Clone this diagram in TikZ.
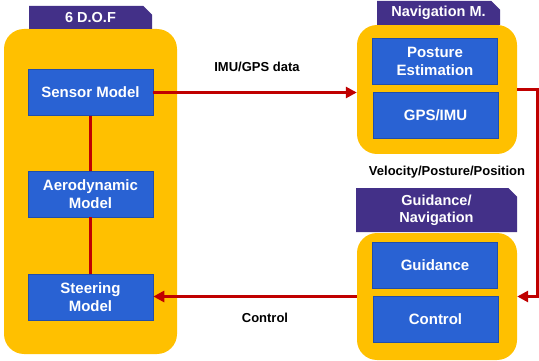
\documentclass[tikz,border=0pt]{standalone}
\usepackage{fontspec}
\setmainfont{Liberation Sans}
\usepackage{xcolor}
\usetikzlibrary{arrows.meta,positioning,calc,shapes.misc}
\definecolor{panel}{HTML}{FFC000}
\definecolor{blockblue}{HTML}{2962D3}
\definecolor{tabpurple}{HTML}{433088}
\definecolor{linkred}{HTML}{C00000}
\tikzset{
  panelbox/.style={fill=panel,draw=none,rounded corners=20pt},
  tabbox/.style={chamfered rectangle,chamfered rectangle corners=north east,
    chamfered rectangle xsep=5pt,fill=tabpurple,draw=none,text=white,
    font=\bfseries\fontsize{14.5}{17}\selectfont,align=center,inner sep=0pt},
  block/.style={fill=blockblue,draw=blockblue!80!black,line width=0.6pt,
    text=white,font=\bfseries\fontsize{15}{18}\selectfont,align=center,
    minimum width=125pt,minimum height=46pt,inner sep=0pt},
  link/.style={linkred,line width=3pt},
  linkarrow/.style={link,-{Triangle[length=11pt,width=11pt]}},
  tag/.style={font=\bfseries\fontsize{13}{15}\selectfont}
}
\begin{document}
\begin{tikzpicture}[x=1pt,y=-1pt]
\useasboundingbox (0,0) rectangle (539,361);
% left panel
\node[panelbox,minimum width=173pt,minimum height=325pt] (dofy) at (90.5,191.5) {};
\node[tabbox,minimum width=123pt,minimum height=23pt] (doft) at (90.5,17.5) {6 D.O.F};
\node[block] (sensor) at (90.5,92.5) {Sensor Model};
\node[block] (aero) at (90.5,194) {Aerodynamic\\Model};
\node[block] (steer) at (90.5,297) {Steering\\Model};
% navigation panel
\node[panelbox,minimum width=160pt,minimum height=129pt] (navy) at (437,89.5) {};
\node[tabbox,minimum width=123pt,minimum height=24pt] (navt) at (438.5,13) {Navigation M.};
\node[block] (posture) at (435,61) {Posture\\Estimation};
\node[block] (gps) at (435.5,115) {GPS/IMU};
% guidance panel
\node[panelbox,minimum width=160pt,minimum height=127pt] (guidy) at (437,296.5) {};
\node[tabbox,minimum width=161pt,minimum height=44pt] (guidt) at (436.5,210) {Guidance/\\Navigation};
\node[block] (guid) at (435,265) {Guidance};
\node[block] (ctrl) at (435.5,319) {Control};
% connectors
\draw[link] (sensor.south) -- (aero.north);
\draw[link] (aero.south) -- (steer.north);
\draw[linkarrow] (sensor.east) -- (sensor.east -| navy.west);
\draw[linkarrow] (navy.east) -- ++(20,0) |- (guidy.east);
\draw[linkarrow] (guidy.west) -- (guidy.west -| steer.east);
% labels
\node[tag] (imulbl) at (257,67) {IMU/GPS data};
\node[tag] (vellbl) at (447,172) {Velocity/Posture/Position};
\node[tag] (ctrllbl) at (265,318) {Control};
\end{tikzpicture}
\end{document}
